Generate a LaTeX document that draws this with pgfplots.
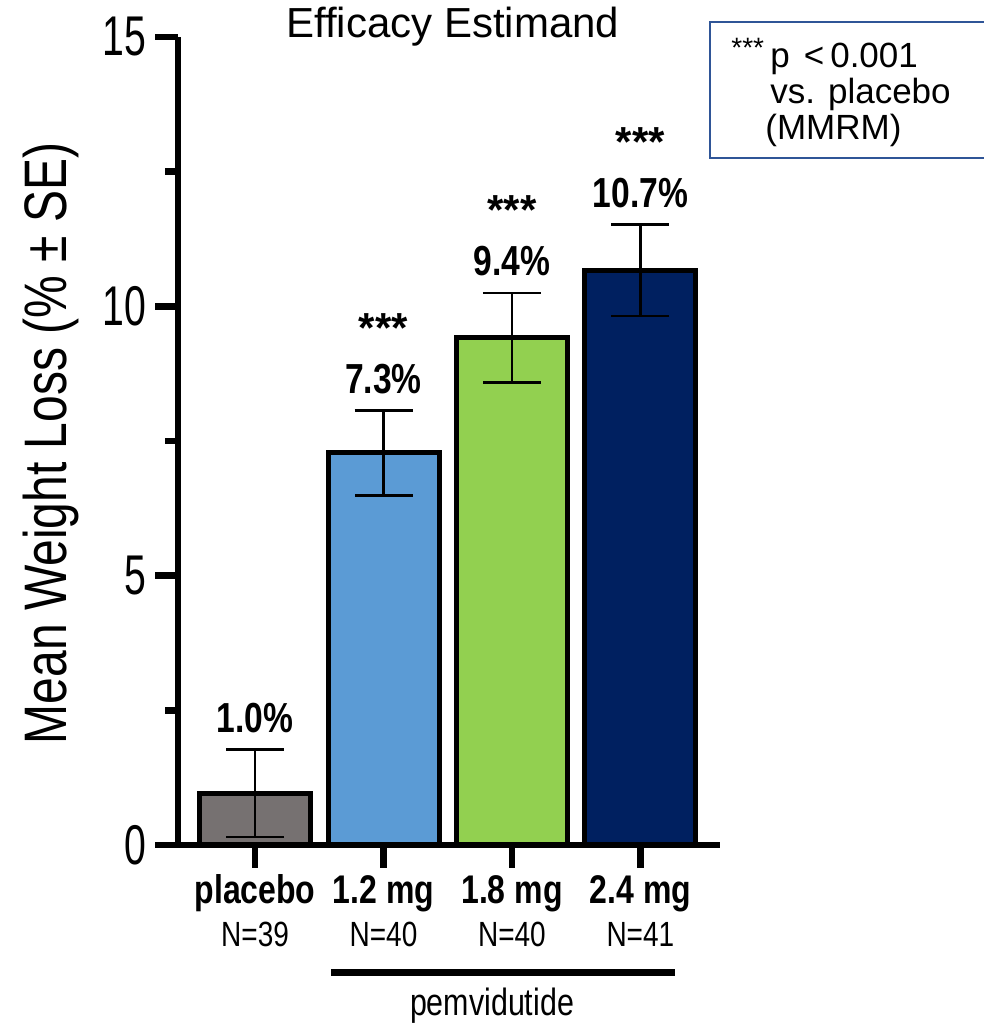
\documentclass[border=0pt]{standalone}
\usepackage{pgfplots}
\pgfplotsset{compat=1.18}
\usepackage{fontspec}
\setmainfont{Liberation Sans}
\newfontfamily\narrow{Liberation Sans}[FakeStretch=0.8]
\newfontfamily\narrowtick{Liberation Sans}[FakeStretch=0.7]
\definecolor{cplacebo}{HTML}{767171}
\definecolor{clow}{HTML}{5B9BD5}
\definecolor{cmid}{HTML}{92D050}
\definecolor{chigh}{HTML}{002060}
\definecolor{cbox}{HTML}{2F5597}
\pgfplotsset{
  mybar/.style={ybar, bar width=55.5pt, bar shift=0pt, draw=black, line width=2.5pt,
    error bars/y dir=both, error bars/y explicit,
    error bars/error bar style={line width=1.3pt, black, solid},
    error bars/error mark options={rotate=90, mark size=14.5pt, line width=1.3pt, black}},
}
\tikzset{
  pct/.style={anchor=base, inner sep=0pt, font=\narrow\bfseries\fontsize{21}{21}\selectfont, yshift=8.5pt},
  stars/.style={anchor=base, inner sep=0pt, font=\bfseries\fontsize{21}{21}\selectfont, yshift=34pt},
  xname/.style={anchor=base, inner sep=0pt, font=\narrow\bfseries\fontsize{20}{20}\selectfont, yshift=-29.5pt},
  xn/.style={anchor=base, inner sep=0pt, font=\narrow\fontsize{17.5}{18}\selectfont, yshift=-51pt},
  legtxt/.style={anchor=base west, inner sep=0pt, font=\fontsize{17.5}{18}\selectfont},
}
\begin{document}
\begin{tikzpicture}
\useasboundingbox (0,0) rectangle (492pt,514pt);
\begin{axis}[
  at={(89pt,91.5pt)}, anchor=south west,
  scale only axis, width=271pt, height=404pt,
  xmin=-0.6, xmax=3.62, ymin=0, ymax=15,
  axis lines=left,
  axis line style={line width=3.3pt, -},
  clip=false,
  ytick={0,5,10,15}, minor ytick={2.5,7.5,12.5},
  xtick={0,1,2,3}, xticklabels={},
  tick align=outside,
  major tick length=11.5pt, minor tick length=6.5pt,
  tick style={line width=3.3pt, black},
  /pgf/number format/assume math mode=true,
  yticklabel style={font=\narrowtick\fontsize{28}{30}\selectfont, anchor=east, inner sep=0pt, xshift=-4pt},
  ylabel={Mean Weight Loss (\% ± SE)},
  every axis y label/.style={at={(axis description cs:-0.2066,0.497)}, rotate=90, anchor=base, inner sep=0pt, font=\narrow\fontsize{30}{32}\selectfont},
  title={Efficacy Estimand},
  every axis title/.style={at={(axis description cs:0.507,0.9988)}, anchor=base, inner sep=0pt, font=\fontsize{21}{24}\selectfont},
]
\addplot[mybar, fill=cplacebo] coordinates {(0,0.96) +- (0,0.81)};
\addplot[mybar, fill=clow] coordinates {(1,7.28) +- (0,0.79)};
\addplot[mybar, fill=cmid] coordinates {(2,9.42) +- (0,0.83)};
\addplot[mybar, fill=chigh] coordinates {(3,10.67) +- (0,0.85)};

\node[pct] at (axis cs:0,1.77) {1.0\%};
\node[pct] at (axis cs:1,8.07) {7.3\%};
\node[pct] at (axis cs:2,10.25) {9.4\%};
\node[pct] at (axis cs:3,11.52) {10.7\%};
\node[stars] at (axis cs:1,8.07) {***};
\node[stars] at (axis cs:2,10.25) {***};
\node[stars] at (axis cs:3,11.52) {***};

\node[xname] at (axis cs:0,0) {placebo};
\node[xname] at (axis cs:1,0) {1.2 mg};
\node[xname] at (axis cs:2,0) {1.8 mg};
\node[xname] at (axis cs:3,0) {2.4 mg};
\node[xn] at (axis cs:0,0) {N=39};
\node[xn] at (axis cs:1,0) {N=40};
\node[xn] at (axis cs:2,0) {N=40};
\node[xn] at (axis cs:3,0) {N=41};
\end{axis}
\draw[line width=3.5pt] (165.5pt,27.5pt) -- (337.5pt,27.5pt);
\node[anchor=base, inner sep=0pt, font=\narrow\fontsize{19}{19}\selectfont] at (246pt,6pt) {pemvidutide};
\draw[cbox, line width=1pt] (498pt,503pt) -- (355pt,503pt) -- (355pt,435pt) -- (498pt,435pt);
\node[anchor=base west, inner sep=0pt, font=\fontsize{14}{14}\selectfont] at (365.5pt,485pt) {***};
\node[legtxt] at (385pt,480pt) {p\hspace{7pt}<\hspace{3pt}0.001};
\node[legtxt] at (385pt,462pt) {vs. placebo};
\node[legtxt] at (382.5pt,444pt) {(MMRM)};
\end{tikzpicture}
\end{document}
